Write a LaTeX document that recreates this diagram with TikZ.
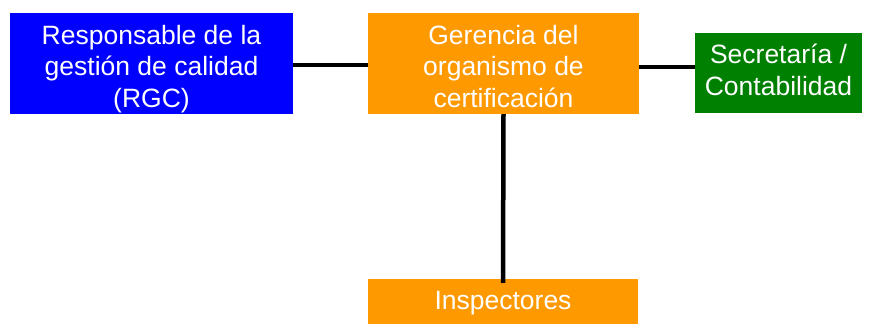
\documentclass[tikz,border=0pt]{standalone}
\usepackage{fontspec}
\setmainfont{Liberation Sans}
\definecolor{rgcblue}{RGB}{0,0,255}
\definecolor{ocorange}{RGB}{255,153,0}
\definecolor{secgreen}{RGB}{0,128,0}
\tikzset{
  unit/.style={inner sep=0pt,text=white,align=center,
    font=\fontsize{26.5}{31.5}\selectfont,text depth=0pt},
  link/.style={line width=4.5pt,black}
}
\begin{document}
\begin{tikzpicture}[x=1pt,y=-1pt]
            \useasboundingbox (0,0) rectangle (871,325);
            \node[unit,fill=rgcblue,minimum width=283pt,minimum height=101pt,text height=87pt] (rgc) at (151.5,63.5) {Responsable de la\\gestión de calidad\\(RGC)};
            \node[unit,fill=ocorange,minimum width=271pt,minimum height=101pt,text height=87pt] (gerencia) at (503.5,63.5) {Gerencia del\\organismo de\\certificación};
            \node[unit,fill=secgreen,minimum width=167pt,minimum height=80pt,text height=44pt] (sec) at (778.5,73) {Secretaría /\\Contabilidad};
            \node[unit,fill=ocorange,minimum width=270pt,minimum height=45pt,text height=15pt] (insp) at (503,301.5) {Inspectores};
            \draw[link] ([yshift=-1.5pt]rgc.east) -- ([yshift=-1.5pt]rgc.east -| gerencia.west);
            \draw[link] ([yshift=-3.5pt]gerencia.east) -- ([yshift=-3.5pt]gerencia.east -| sec.west);
            \draw[link] (gerencia.south) -- ([yshift=-4pt]insp.north);
        \end{tikzpicture}
\end{document}
